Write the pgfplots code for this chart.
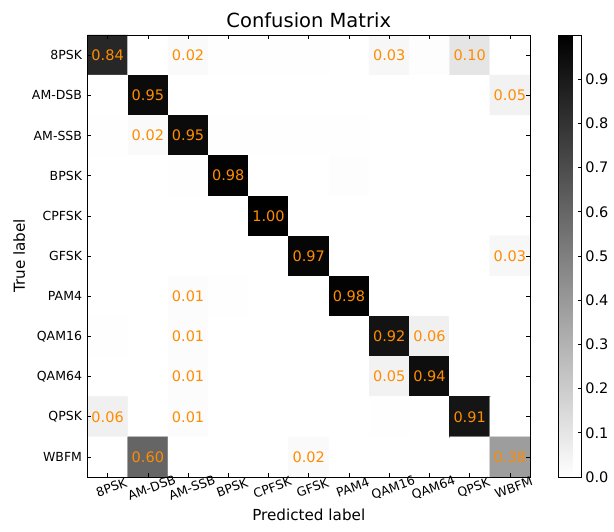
\documentclass[border=0pt]{standalone}
\usepackage{fontspec}
\setmainfont{DejaVu Sans}
\usepackage{pgfplots}
\usepackage{pgfplotstable}
\pgfplotsset{compat=1.18}
\definecolor{annot}{RGB}{255,140,0}
\newcommand{\tl}{\fontsize{12.5bp}{15bp}\selectfont}

\pgfplotstableread{
x y c
0 0 0.84
1 0 0.0
2 0 0.02
3 0 0.004
4 0 0.004
5 0 0.004
6 0 0.0
7 0 0.03
8 0 0.008
9 0 0.10
10 0 0.0
0 1 0.0
1 1 0.95
2 1 0.0
3 1 0.0
4 1 0.0
5 1 0.0
6 1 0.0
7 1 0.0
8 1 0.0
9 1 0.0
10 1 0.05
0 2 0.003
1 2 0.02
2 2 0.95
3 2 0.004
4 2 0.004
5 2 0.004
6 2 0.003
7 2 0.0
8 2 0.0
9 2 0.0
10 2 0.0
0 3 0.0
1 3 0.0
2 3 0.004
3 3 0.98
4 3 0.0
5 3 0.0
6 3 0.006
7 3 0.0
8 3 0.0
9 3 0.0
10 3 0.0
0 4 0.0
1 4 0.0
2 4 0.0
3 4 0.0
4 4 1.00
5 4 0.0
6 4 0.0
7 4 0.0
8 4 0.0
9 4 0.0
10 4 0.0
0 5 0.0
1 5 0.0
2 5 0.0
3 5 0.0
4 5 0.0
5 5 0.97
6 5 0.0
7 5 0.0
8 5 0.0
9 5 0.0
10 5 0.03
0 6 0.0
1 6 0.0
2 6 0.01
3 6 0.004
4 6 0.0
5 6 0.0
6 6 0.98
7 6 0.0
8 6 0.0
9 6 0.0
10 6 0.0
0 7 0.004
1 7 0.0
2 7 0.01
3 7 0.0
4 7 0.0
5 7 0.0
6 7 0.0
7 7 0.92
8 7 0.06
9 7 0.0
10 7 0.0
0 8 0.0
1 8 0.0
2 8 0.01
3 8 0.0
4 8 0.0
5 8 0.0
6 8 0.0
7 8 0.05
8 8 0.94
9 8 0.0
10 8 0.0
0 9 0.06
1 9 0.0
2 9 0.01
3 9 0.0
4 9 0.0
5 9 0.0
6 9 0.0
7 9 0.003
8 9 0.0
9 9 0.91
10 9 0.0
0 10 0.0
1 10 0.60
2 10 0.0
3 10 0.0
4 10 0.0
5 10 0.02
6 10 0.0
7 10 0.0
8 10 0.0
9 10 0.0
10 10 0.38
}\cmdata

\pgfplotstableread{
x y t
0 0 0.84
2 0 0.02
7 0 0.03
9 0 0.10
1 1 0.95
10 1 0.05
1 2 0.02
2 2 0.95
3 3 0.98
4 4 1.00
5 5 0.97
10 5 0.03
2 6 0.01
6 6 0.98
2 7 0.01
7 7 0.92
8 7 0.06
2 8 0.01
7 8 0.05
8 8 0.94
0 9 0.06
2 9 0.01
9 9 0.91
1 10 0.60
5 10 0.02
10 10 0.38
}\annotdata

\begin{document}
\begin{tikzpicture}
\begin{axis}[
  scale only axis,
  width=442.5bp, height=442bp,
  xmin=-0.5, xmax=10.5, ymin=-0.5, ymax=10.5,
  y dir=reverse,
  clip=false,
  axis on top,
  axis line style={line width=0.8bp, black},
  xtick={0,...,10}, ytick={0,...,10},
  xticklabels={\tl 8PSK,\tl AM-DSB,\tl AM-SSB,\tl BPSK,\tl CPFSK,\tl GFSK,\tl PAM4,\tl QAM16,\tl QAM64,\tl QPSK,\tl WBFM},
  yticklabels={\tl 8PSK,\tl AM-DSB,\tl AM-SSB,\tl BPSK,\tl CPFSK,\tl GFSK,\tl PAM4,\tl QAM16,\tl QAM64,\tl QPSK,\tl WBFM},
  tick align=inside,
  major tick length=4bp,
  tick style={black, line width=0.6bp},
  every tick label/.append style={font=\tl},
  xticklabel style={rotate=20, anchor=north, yshift=-3bp},
  yticklabel style={xshift=-2bp},
  title={Confusion Matrix},
  title style={font=\fontsize{19.5bp}{23bp}\selectfont, yshift=-2bp},
  xlabel={Predicted label},
  ylabel={True label},
  label style={font=\fontsize{15.2bp}{18bp}\selectfont},
  colormap={grayr}{rgb=(1,1,1) rgb=(0,0,0)},
  point meta min=0, point meta max=1,
  colorbar,
  colorbar style={
    at={(1.064,1)}, anchor=north west,
    width=23.5bp,
    ytick={0,0.1,0.2,0.3,0.4,0.5,0.6,0.7,0.8,0.9},
    ytick pos=right,
    tick align=inside,
    major tick length=4bp,
    tick style={black, line width=0.6bp},
    axis line style={line width=0.8bp, black},
    yticklabel style={font=\fontsize{14.5bp}{17bp}\selectfont,
      /pgf/number format/.cd, fixed, fixed zerofill, precision=1, assume math mode=true},
  },
]
\addplot[matrix plot*, mesh/cols=11, mesh/ordering=x varies, point meta=explicit]
  table[x=x, y=y, meta=c] {\cmdata};
\addplot[draw=none, mark=none, nodes near coords, point meta=explicit symbolic,
  every node near coord/.append style={anchor=center, text=annot, inner sep=0pt,
    font=\fontsize{14.5bp}{17bp}\selectfont}]
  table[x=x, y=y, meta=t] {\annotdata};
\end{axis}
\path (-87.5bp,-55bp) rectangle (526.5bp,477bp);
\end{tikzpicture}
\end{document}
